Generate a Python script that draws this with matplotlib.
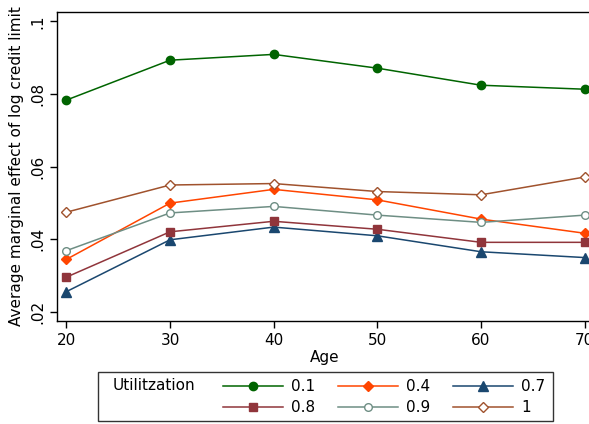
import matplotlib
matplotlib.use("Agg")
import matplotlib.pyplot as plt
from matplotlib.patches import Rectangle

ages = [20, 30, 40, 50, 60, 70]
util_labels = ["0.1", "0.4", "0.7", "0.8", "0.9", "1"]
u01 = [0.0783, 0.0893, 0.0909, 0.0871, 0.0824, 0.0813]
u04 = [0.0344, 0.0499, 0.0537, 0.0508, 0.0455, 0.0416]
u07 = [0.0255, 0.0398, 0.0433, 0.0409, 0.0365, 0.0349]
u08 = [0.0295, 0.0420, 0.0449, 0.0427, 0.0391, 0.0391]
u09 = [0.0368, 0.0472, 0.0490, 0.0466, 0.0446, 0.0466]
u10 = [0.0474, 0.0549, 0.0553, 0.0531, 0.0522, 0.0571]
yticks = [0.02, 0.04, 0.06, 0.08, 0.1]
ytick_labels = [".02", ".04", ".06", ".08", ".1"]

series = [u01, u04, u07, u08, u09, u10]
colors = ["#006400", "#ff4500", "#1a476f", "#90353b", "#6e8e84", "#a0522d"]
markers = ["o", "D", "^", "s", "o", "D"]
msizes = [6, 5.5, 6.5, 6, 5.5, 5.5]
filled = [True, True, True, True, False, False]

plt.rcParams["font.family"] = "DejaVu Sans"
fig = plt.figure(figsize=(5.89, 4.24), dpi=100)
ax = fig.add_axes([56.7/589, 1-320.7/424, (592-56.7)/589, (320.7-12.3)/424])

handles = []
for y, c, m, ms, f, lab in zip(series, colors, markers, msizes, filled, util_labels):
    h, = ax.plot(ages, y, color=c, marker=m, markersize=ms, linewidth=1.1,
                 markerfacecolor=c if f else "white", markeredgecolor=c,
                 markeredgewidth=1.0, label=lab, clip_on=False)
    handles.append(h)

ax.set_xlim(19.07, 70.7)
ax.set_ylim(0.0175, 0.1025)
ax.set_xticks(ages)
ax.set_yticks(yticks)
ax.set_yticklabels(ytick_labels, rotation=90, va="center")
ax.tick_params(labelsize=11, length=5, width=1, direction="out")
ax.set_xlabel("Age", fontsize=11, labelpad=2)
ax.set_ylabel("Average marginal effect of log credit limit", fontsize=11, labelpad=4)
for s in ax.spines.values():
    s.set_linewidth(1)

# legend box, Stata style
fig.patches.append(Rectangle((98/589, 1-421/424), (553-98)/589, (421-372)/424,
                             transform=fig.transFigure, fill=False,
                             edgecolor="#333333", linewidth=1))
fig.text(113/589, 1-386/424, "Utilitzation", fontsize=11, va="center")
order = [0, 3, 1, 4, 2, 5]
fig.legend([handles[i] for i in order], [util_labels[i] for i in order],
           ncol=3, frameon=False, fontsize=11, handlelength=3.9,
           handletextpad=0.55, columnspacing=1.5, labelspacing=0.4,
           loc="center left", bbox_to_anchor=(223/589, 1-397/424),
           borderaxespad=0, borderpad=0)

fig.savefig("out.png", dpi=100)
